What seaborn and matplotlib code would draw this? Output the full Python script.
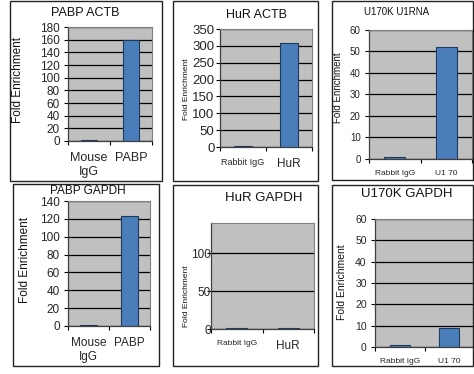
import matplotlib
matplotlib.use("Agg")
import matplotlib.pyplot as plt
from matplotlib.patches import Rectangle
import seaborn as sns
import numpy as np
import pandas as pd

# ---- data ----
titles = ["PABP ACTB", "HuR ACTB", "U170K U1RNA",
          "PABP GAPDH", "HuR GAPDH", "U170K GAPDH"]
pabp_groups = ["Mouse\nIgG", "PABP"]
hur_groups = ["Rabbit IgG", "HuR"]
u170_groups = ["Rabbit IgG", "U1 70"]

pabp_actb = [1.0, 160.0]
hur_actb = [1.5, 307.0]
u170k_u1rna = [1.0, 52.0]
pabp_gapdh = [1.0, 123.0]
hur_gapdh = [1.0, 1.0]
u170k_gapdh = [1.0, 9.0]

yticks_list = [np.arange(0, 181, 20), np.arange(0, 351, 50), np.arange(0, 61, 10),
               np.arange(0, 141, 20), [0, 50, 100], np.arange(0, 61, 10)]
ymax_list = [180, 350, 60, 140, 140, 60]
ylabel = "Fold Enrichment"

groups_list = [pabp_groups, hur_groups, u170_groups,
               pabp_groups, hur_groups, u170_groups]
values_list = [pabp_actb, hur_actb, u170k_u1rna,
               pabp_gapdh, hur_gapdh, u170k_gapdh]

# ---- layout (pixels in a 474x374 canvas) ----
W, H = 474, 374
frames = [(10, 1, 162, 181), (173, 1, 318, 181), (332, 1, 473, 180),
          (13, 184, 159, 366), (173, 185, 318, 366), (332, 185, 473, 366)]
axes_px = [(68, 27, 152, 141), (220, 29, 312, 147), (369, 30, 472, 159),
           (68, 201, 150, 326), (211, 223, 314, 329), (375, 219, 474, 347)]
title_px = [(85, 13), (257, 15), (397, 12), (88, 191), (264, 198), (407, 194)]
ylab_px = [(18, 80), (186, 89), (338, 88), (25, 260), (187, 296), (342, 282)]
title_fs = [9, 9, 7, 8.5, 9.5, 9.5]
ytick_fs = [8.5, 9.5, 7, 8.5, 8.5, 7.5]
ylab_fs = [8.5, 6, 7, 8.5, 6, 7.5]
xtick_fs = [[9, 9], [6.5, 8.5], [6, 6], [8.5, 8.5], [6, 8.5], [6, 6]]
ytick_pad = [3, 1, 3, 3, -3, 3]

sns.set_theme(style="white")
plt.rcParams["font.family"] = ["Liberation Sans", "DejaVu Sans"]

fig = plt.figure(figsize=(W / 100, H / 100), dpi=100)
fig.patch.set_facecolor("white")


def fx(px):
    return px / W


def fy(py):
    return 1 - py / H


for i in range(6):
    l, t, r, b = axes_px[i]
    ax = fig.add_axes([fx(l), fy(b), (r - l) / W, (b - t) / H])
    df = pd.DataFrame({"group": groups_list[i], "value": values_list[i]})
    sns.barplot(data=df, x="group", y="value", ax=ax, color="#4a7ebb",
                edgecolor="#1f3a5f", linewidth=0.8, width=0.4, saturation=1)
    ax.set_facecolor("#c0c0c0")
    ax.set_ylim(0, ymax_list[i])
    ax.set_xlim(-0.5, 1.5)
    ax.set_yticks(yticks_list[i])
    ax.yaxis.grid(True, color="black", linewidth=0.9)
    ax.set_axisbelow(True)
    ax.set_xlabel("")
    ax.set_ylabel("")

    # x ticks sit between the categories, labels at the bar centres
    ax.set_xticks([-0.5, 0.5, 1.5])
    ax.set_xticklabels([])
    ax.set_xticks([0, 1], minor=True)
    ax.set_xticklabels(groups_list[i], minor=True)
    for lab, fs in zip(ax.get_xticklabels(minor=True), xtick_fs[i]):
        lab.set_fontsize(fs)
    ax.tick_params(axis="x", which="major", direction="out", length=3,
                   width=0.8, color="black", bottom=True)
    ax.tick_params(axis="x", which="minor", length=0, pad=8)
    ax.tick_params(axis="y", direction="out", length=3, width=0.8,
                   color="black", left=True, labelsize=ytick_fs[i],
                   pad=ytick_pad[i])

    for side in ["top", "right"]:
        ax.spines[side].set_color("#808080")
        ax.spines[side].set_linewidth(0.8)
    for side in ["left", "bottom"]:
        ax.spines[side].set_color("#404040")
        ax.spines[side].set_linewidth(0.9)

    tx, ty = title_px[i]
    fig.text(fx(tx), fy(ty), titles[i], ha="center", va="center",
             fontsize=title_fs[i], color="#111111")
    lx, ly = ylab_px[i]
    fig.text(fx(lx), fy(ly), ylabel, ha="center", va="center", rotation=90,
             fontsize=ylab_fs[i], color="#111111")

    x0, y0, x1, y1 = frames[i]
    fig.patches.append(Rectangle((fx(x0), fy(y1)), (x1 - x0) / W, (y1 - y0) / H,
                                 transform=fig.transFigure, fill=False,
                                 edgecolor="#222222", linewidth=1.0))

fig.savefig("out.png", dpi=100)
